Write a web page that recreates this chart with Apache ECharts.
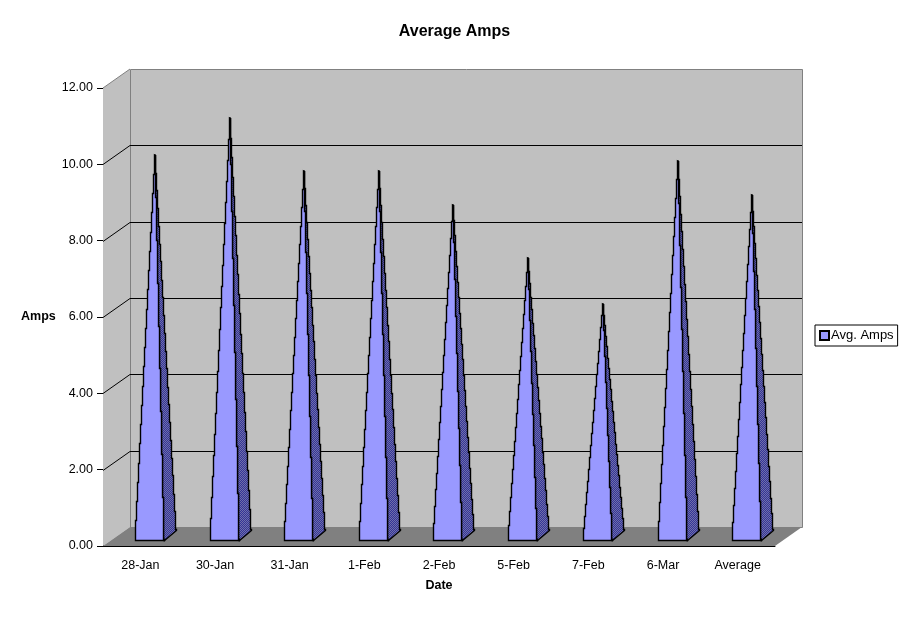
<!DOCTYPE html>
<html>
<head>
<meta charset="utf-8">
<title>Average Amps</title>
<style>
  html, body { margin: 0; background: #fff; }
  #chart { width: 908px; height: 618px; }
</style>
</head>
<body>
<div id="chart"></div>
<script src="https://cdn.jsdelivr.net/npm/echarts@6/dist/echarts.min.js"></script>
<script>
const categories = ['28-Jan', '30-Jan', '31-Jan', '1-Feb', '2-Feb', '5-Feb', '7-Feb', '6-Mar', 'Average']
const avgAmps = [10.0, 10.98, 9.6, 9.6, 8.7, 7.3, 6.1, 9.85, 8.96]
const yTicks = [0, 2, 4, 6, 8, 10, 12]

const FONT = '"Liberation Sans", Arial, sans-serif'
// 3D look: how far the back wall is shifted from the axes
const DEPTH_X = 27
const DEPTH_Y = -19

// dithered fill for the dark side of the pyramids
const dither = document.createElement('canvas')
dither.width = 2
dither.height = 2
const dctx = dither.getContext('2d')
dctx.fillStyle = '#333399'
dctx.fillRect(0, 0, 2, 2)
dctx.fillStyle = '#7070a8'
dctx.fillRect(0, 0, 1, 1)
dctx.fillRect(1, 1, 1, 1)

function renderWalls(params, api) {
  const g = params.coordSys
  const left = g.x
  const right = g.x + g.width
  const top = g.y
  const bottom = g.y + g.height
  const children = [
    // left wall
    { type: 'polygon', shape: { points: [[left, top], [left + DEPTH_X, top + DEPTH_Y], [left + DEPTH_X, bottom + DEPTH_Y], [left, bottom]] },
      style: { fill: '#c0c0c0' } },
    { type: 'line', shape: { x1: left, y1: top, x2: left + DEPTH_X, y2: top + DEPTH_Y },
      style: { stroke: '#808080', lineWidth: 1 } },
    // back wall
    { type: 'rect', shape: { x: left + DEPTH_X + 0.5, y: top + DEPTH_Y + 0.5, width: g.width, height: g.height },
      style: { fill: '#c0c0c0', stroke: '#808080', lineWidth: 1 } },
    // floor
    { type: 'polygon', shape: { points: [[left, bottom], [right, bottom], [right + DEPTH_X, bottom + DEPTH_Y], [left + DEPTH_X, bottom + DEPTH_Y]] },
      style: { fill: '#808080' } }
  ]
  yTicks.slice(1, -1).forEach(t => {
    const y = Math.round(api.coord([0, t])[1]) + 0.5
    children.push({
      type: 'polyline',
      shape: { points: [[left, y], [left + DEPTH_X, y + DEPTH_Y], [right + DEPTH_X, y + DEPTH_Y]] },
      style: { fill: null, stroke: '#000', lineWidth: 1 }
    })
  })
  return { type: 'group', children }
}

function renderPyramid(params, api) {
  const p = api.coord([api.value(0), api.value(1)])
  const apexX = Math.round(p[0] + 13.5) + 0.5
  const apexY = Math.round(p[1] - 9)
  const baseY = Math.round(api.coord([api.value(0), 0])[1] - 7) + 0.5
  const frontL = apexX - 20
  const frontR = apexX + 9
  const sideR = apexX + 21
  const sideY = baseY - 10

  // edges snap to whole pixels, which gives the jagged look of the reference
  const steps = Math.round(baseY - apexY)
  const frontLeft = []
  const frontRight = []
  const sideEdge = []
  for (let i = 0; i < steps; i++) {
    const t0 = i / steps
    const t1 = (i + 1) / steps
    const y0 = Math.round(baseY + (apexY - baseY) * t0) + 0.5
    const y1 = Math.round(baseY + (apexY - baseY) * t1) + 0.5
    const sy0 = Math.round(sideY + (apexY - sideY) * t0) + 0.5
    const sy1 = Math.round(sideY + (apexY - sideY) * t1) + 0.5
    const lx = Math.round(frontL + (apexX - frontL) * t0) + 0.5
    const rx = Math.round(frontR + (apexX - frontR) * t0) + 0.5
    const sx = Math.round(sideR + (apexX - sideR) * t0) + 0.5
    frontLeft.push([lx, y0], [lx, y1])
    frontRight.push([rx, y0], [rx, y1])
    sideEdge.push([sx, sy0], [sx, sy1])
  }
  const front = frontLeft.concat([[apexX, apexY]], frontRight.slice().reverse())
  const side = frontRight.concat([[apexX, apexY]], sideEdge.slice().reverse())

  return {
    type: 'group',
    children: [
      { type: 'polygon', shape: { points: side }, style: { fill: { image: dither, repeat: 'repeat' }, stroke: '#000', lineWidth: 1.4 } },
      { type: 'polygon', shape: { points: front }, style: { fill: '#9999ff', stroke: '#000', lineWidth: 1.4 } }
    ]
  }
}

const chart = echarts.init(document.getElementById('chart'))
chart.setOption({
  animation: false,
  textStyle: { fontFamily: FONT, color: '#000' },
  title: {
    text: 'Average Amps',
    left: 454.5,
    top: 24,
    padding: 0,
    textAlign: 'center',
    textStyle: { fontFamily: FONT, fontSize: 16, fontWeight: 'bold', color: '#000' }
  },
  legend: {
    data: ['Avg. Amps'],
    left: 815,
    top: 325,
    padding: [4, 4, 4, 4],
    itemGap: 0,
    itemWidth: 9,
    itemHeight: 9,
    icon: 'rect',
    borderColor: '#000',
    borderWidth: 1,
    selectedMode: false,
    textStyle: { fontFamily: FONT, fontSize: 13, color: '#000', padding: [0, 0, 0, -3] }
  },
  grid: { left: 103, right: 133, top: 88, bottom: 72 },
  xAxis: {
    type: 'category',
    data: categories,
    name: 'Date',
    nameLocation: 'middle',
    nameGap: 33,
    nameTextStyle: { fontFamily: FONT, fontSize: 12.5, fontWeight: 'bold', color: '#000' },
    axisLine: { lineStyle: { color: '#000', width: 1 } },
    axisTick: { length: 6, lineStyle: { color: '#000' } },
    axisLabel: { fontFamily: FONT, fontSize: 12.5, color: '#000', margin: 13 },
    splitLine: { show: false }
  },
  yAxis: {
    type: 'value',
    min: 0,
    max: 12,
    interval: 2,
    name: 'Amps',
    nameLocation: 'middle',
    nameRotate: 0,
    nameGap: 47,
    nameTextStyle: { fontFamily: FONT, fontSize: 12.5, fontWeight: 'bold', color: '#000', padding: [0, 0, -2, 0] },
    axisLine: { show: true, lineStyle: { color: '#000', width: 1 } },
    axisTick: { show: true, length: 6, lineStyle: { color: '#000' } },
    axisLabel: { fontFamily: FONT, fontSize: 12.5, color: '#000', margin: 10, padding: [0, 0, -3, 0], formatter: v => v.toFixed(2) },
    splitLine: { show: false }
  },
  series: [
    {
      name: 'walls',
      type: 'custom',
      silent: true,
      clip: false,
      z: 1,
      data: [[0, 0]],
      renderItem: renderWalls
    },
    {
      name: 'Avg. Amps',
      type: 'custom',
      clip: false,
      z: 2,
      itemStyle: { color: '#9999ff', borderColor: '#000', borderWidth: 1 },
      encode: { x: 0, y: 1 },
      data: avgAmps.map((v, i) => [i, v]),
      renderItem: renderPyramid
    }
  ]
})
</script>
</body>
</html>
